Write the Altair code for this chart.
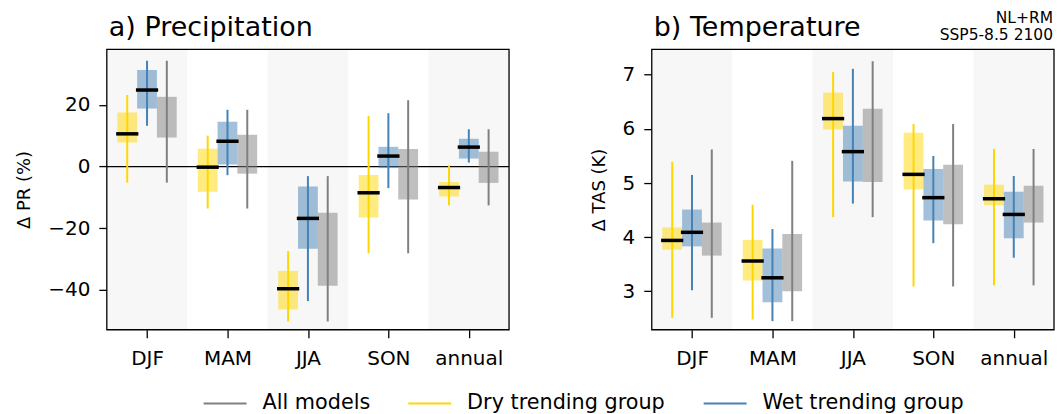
import altair as alt
import pandas as pd

seasons = ["DJF", "MAM", "JJA", "SON", "annual"]
legend_order = ["All models", "Dry trending group", "Wet trending group"]
box_order = ["Dry trending group", "Wet trending group", "All models"]

# ---- Precipitation change (%) : whisker low, box low, median, box high, whisker high
pr_dry_lo = [-5.2, -13.6, -50.2, -28.1, -12.6]
pr_dry_q1 = [7.8, -8.2, -46.3, -16.5, -9.7]
pr_dry_med = [10.6, -0.2, -39.6, -8.5, -6.8]
pr_dry_q3 = [17.5, 5.8, -33.8, -2.7, -5.0]
pr_dry_hi = [23.2, 10.0, -27.4, 16.4, 0.45]

pr_wet_lo = [13.2, -2.8, -43.6, -7.0, 1.3]
pr_wet_q1 = [18.8, 0.65, -26.6, -0.5, 2.6]
pr_wet_med = [24.8, 8.2, -16.8, 3.4, 6.3]
pr_wet_q3 = [31.3, 14.5, -6.5, 6.4, 9.0]
pr_wet_hi = [34.3, 18.4, -3.1, 17.3, 12.1]

pr_all_lo = [-5.2, -13.6, -50.2, -28.1, -12.6]
pr_all_q1 = [9.4, -2.3, -38.6, -10.7, -5.3]
pr_all_q3 = [22.6, 10.3, -15.0, 5.7, 4.8]
pr_all_hi = [34.3, 18.4, -3.1, 21.5, 12.1]

# ---- Temperature change (K)
tas_dry_lo = [2.51, 2.48, 4.37, 3.09, 3.11]
tas_dry_q1 = [3.77, 3.20, 5.99, 4.88, 4.59]
tas_dry_med = [3.94, 3.56, 6.19, 5.16, 4.71]
tas_dry_q3 = [4.18, 3.95, 6.67, 5.93, 4.97]
tas_dry_hi = [5.39, 4.60, 7.05, 6.09, 5.63]

tas_wet_lo = [3.02, 2.45, 4.62, 3.89, 3.62]
tas_wet_q1 = [3.83, 2.80, 5.03, 4.31, 3.98]
tas_wet_med = [4.09, 3.25, 5.58, 4.73, 4.42]
tas_wet_q3 = [4.51, 3.79, 6.06, 5.26, 4.84]
tas_wet_hi = [5.15, 4.15, 7.11, 5.50, 5.13]

tas_all_lo = [2.51, 2.45, 4.37, 3.09, 3.11]
tas_all_q1 = [3.66, 3.00, 5.02, 4.24, 4.27]
tas_all_q3 = [4.27, 4.06, 6.37, 5.34, 4.95]
tas_all_hi = [5.62, 5.41, 7.25, 6.09, 5.63]

shaded_seasons = ["DJF", "JJA", "annual"]
note_lines = ["NL+RM", "SSP5-8.5 2100"]

# ---- styling
line_colors = {"All models": "#808080", "Dry trending group": "#FFD700", "Wet trending group": "#4682B4"}
group_shift = {"Dry trending group": -0.246, "Wet trending group": 0.0, "All models": 0.246}
BOX_HALF = 0.123
MED_HALF = 0.138
W, H = 403, 281
FONT = "DejaVu Sans"


def build(series):
    rows = []
    for grp, (lo, q1, med, q3, hi) in series.items():
        for i, s in enumerate(seasons):
            c = i + group_shift[grp]
            rows.append(dict(season=s, group=grp, xc=c, xl=c - BOX_HALF, xr=c + BOX_HALF,
                             ml=c - MED_HALF, mr=c + MED_HALF,
                             lo=lo[i], q1=q1[i], med=None if med is None else med[i],
                             q3=q3[i], hi=hi[i]))
    return pd.DataFrame(rows)


pr_df = build({
    "Dry trending group": (pr_dry_lo, pr_dry_q1, pr_dry_med, pr_dry_q3, pr_dry_hi),
    "Wet trending group": (pr_wet_lo, pr_wet_q1, pr_wet_med, pr_wet_q3, pr_wet_hi),
    "All models": (pr_all_lo, pr_all_q1, None, pr_all_q3, pr_all_hi),
})
tas_df = build({
    "Dry trending group": (tas_dry_lo, tas_dry_q1, tas_dry_med, tas_dry_q3, tas_dry_hi),
    "Wet trending group": (tas_wet_lo, tas_wet_q1, tas_wet_med, tas_wet_q3, tas_wet_hi),
    "All models": (tas_all_lo, tas_all_q1, None, tas_all_q3, tas_all_hi),
})

band_df = pd.DataFrame({"season": shaded_seasons})
band_df["x0"] = [seasons.index(s) - 0.5 for s in shaded_seasons]
band_df["x1"] = [seasons.index(s) + 0.5 for s in shaded_seasons]
one_row = pd.DataFrame({"k": [0]})

label_expr = "[" + ",".join("'%s'" % s for s in seasons) + "][datum.value]"
xscale = alt.Scale(domain=[-0.5, len(seasons) - 0.5], nice=False, zero=False)
xaxis = alt.Axis(values=list(range(len(seasons))), labelExpr=label_expr, title=None,
                 labelPadding=11)
stroke_scale = alt.Scale(domain=legend_order, range=[line_colors[g] for g in legend_order])
# different domain order on purpose so the (hidden) fill legend is never merged with the line legend
fill_scale = alt.Scale(domain=box_order, range=[line_colors[g] for g in box_order])

legend = alt.Legend(title=None, orient="none", legendX=96, legendY=332, direction="horizontal",
                    symbolType="stroke", symbolSize=1849, symbolStrokeWidth=2,
                    labelFontSize=20.8, labelFont=FONT, labelColor="black", labelOffset=15,
                    labelLimit=0, columnPadding=34, padding=0)


def panel(df, ytitle, ydomain, yvalues, title, zero_line=False, note=False, show_legend=False):
    base = alt.Chart(df)
    y_enc = alt.Y("q1:Q", scale=alt.Scale(domain=ydomain, nice=False, zero=False),
                  axis=alt.Axis(values=yvalues, title=ytitle, labelPadding=9, titlePadding=14,
                                format="d"))
    bands = alt.Chart(band_df).mark_rect(color="#F7F7F7").encode(
        x=alt.X("x0:Q", scale=xscale, axis=xaxis), x2="x1:Q")
    boxes = base.mark_rect(fillOpacity=0.5).encode(
        x=alt.X("xl:Q", scale=xscale, axis=xaxis), x2="xr:Q",
        y=y_enc, y2="q3:Q",
        fill=alt.Fill("group:N", scale=fill_scale, legend=None))
    whiskers = base.mark_rule(strokeWidth=2).encode(
        x=alt.X("xc:Q", scale=xscale), y=alt.Y("lo:Q"), y2="hi:Q",
        color=alt.Color("group:N", scale=stroke_scale,
                        legend=legend if show_legend else None))
    medians = base.transform_filter("datum.med != null").mark_rule(
        strokeWidth=3.5, color="black").encode(
        x=alt.X("ml:Q", scale=xscale), x2="mr:Q", y=alt.Y("med:Q"))
    frame = alt.Chart(one_row).mark_rect(fillOpacity=0, stroke="black", strokeWidth=1.3).encode(
        x=alt.datum(-0.5), x2=alt.datum(len(seasons) - 0.5), y=alt.value(0), y2=alt.value(H))
    ttl = alt.Chart(one_row).mark_text(
        align="left", baseline="alphabetic", fontSize=27, font=FONT, color="black").encode(
        x=alt.value(2), y=alt.value(-13), text=alt.value(title))
    layers = [bands]
    if zero_line:
        layers.append(alt.Chart(one_row).mark_rule(color="black", strokeWidth=1.3).encode(
            y=alt.datum(0)))
    layers += [boxes, whiskers, medians, frame, ttl]
    if note:
        layers.append(alt.Chart(one_row).mark_text(
            align="right", baseline="top", fontSize=15.5, font=FONT, lineHeight=16.5,
            color="black").encode(
            x=alt.value(W - 1), y=alt.value(-38), text=alt.value(note_lines)))
    return alt.layer(*layers).properties(width=W, height=H)


left = panel(pr_df, "Δ PR (%)", [-52.9, 38.0], [-40, -20, 0, 20], "a) Precipitation",
             zero_line=True, show_legend=True)
right = panel(tas_df, "Δ TAS (K)", [2.29, 7.47], [3, 4, 5, 6, 7], "b) Temperature",
              note=True)

chart = alt.hconcat(left, right, spacing=143, bounds="flush").resolve_scale(
    color="independent", fill="independent"
).properties(
    padding={"left": 7, "top": 3, "right": 0, "bottom": 0}
).configure(
    font=FONT
).configure_view(
    stroke=None
).configure_axis(
    grid=False, domain=False, tickColor="black", tickSize=8, tickWidth=1.3,
    labelFontSize=20, labelColor="black", labelFont=FONT,
    titleFontSize=18, titleFontWeight="normal", titleColor="black", titleFont=FONT
)

chart.save("out.html", embed_options={"renderer": "svg", "actions": False})
